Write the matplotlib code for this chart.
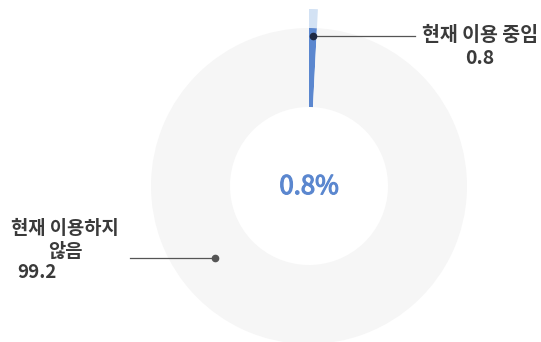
"""Donut chart: current usage share."""

import matplotlib.pyplot as plt
import matplotlib.patheffects as pe
import numpy as np

plt.rcParams["font.family"] = ["Noto Sans CJK KR", "DejaVu Sans"]

categories = ["현재 이용 중임", "현재 이용하지", "않음"]
values = [0.8, 99.2]
center_label = "0.8%"

BLUE = "#5b87cf"
LIGHT_BLUE = "#d3e2f4"
RING = "#f6f6f6"
TEXT = "#3a3a3a"

W, H = 541, 342
cx, cy = 309, H - 186
r_out, r_in, r_hl = 158, 79, 177

fig = plt.figure(figsize=(W / 100, H / 100), dpi=100)
ax = fig.add_axes([0, 0, 1, 1])

# main donut
ax.pie(values, colors=[BLUE, RING], startangle=90, counterclock=False,
       radius=r_out, center=(cx, cy), frame=True,
       wedgeprops=dict(width=r_out - r_in, linewidth=0))
# highlight band outside the small slice
ax.pie(values, colors=[LIGHT_BLUE, "none"], startangle=90, counterclock=False,
       radius=r_hl, center=(cx, cy), frame=True,
       wedgeprops=dict(width=r_hl - r_out, linewidth=0))
ax.set_xlim(0, W)
ax.set_ylim(0, H)
ax.set_aspect("equal")
ax.axis("off")

ax.text(cx, cy - 1, center_label, ha="center", va="center", fontsize=18.5,
        color=BLUE, path_effects=[pe.withStroke(linewidth=0.9, foreground=BLUE)])


def polar(angle_deg, r):
    a = np.deg2rad(angle_deg)
    return cx + r * np.cos(a), cy + r * np.sin(a)


# label for small slice
mid = 90 - values[0] / sum(values) * 360 / 2
px, py = polar(mid, 150)
ax.plot([px, 415], [py, py], color="#555555", lw=0.9)
ax.plot(px, py, "o", color="#1f2a44", ms=4.5)
ax.text(480, H - 35, categories[0], ha="center", va="center", fontsize=14,
        fontweight="bold", color=TEXT)
ax.text(480, H - 58, f"{values[0]:g}", ha="center", va="center", fontsize=14,
        fontweight="bold", color=TEXT)

# label for large slice
px, py = polar(217.5, 118)
ax.plot([130, px], [py, py], color="#555555", lw=0.9)
ax.plot(px, py, "o", color="#555555", ms=4.5)
ax.text(65, H - 229, categories[1], ha="center", va="center", fontsize=13.5,
        fontweight="bold", color=TEXT)
ax.text(65, H - 251, categories[2], ha="center", va="center", fontsize=13.5,
        fontweight="bold", color=TEXT)
ax.text(17, H - 272, f"{values[1]:g}", ha="left", va="center", fontsize=13.5,
        fontweight="bold", color=TEXT)

fig.savefig("out.png", dpi=100)
